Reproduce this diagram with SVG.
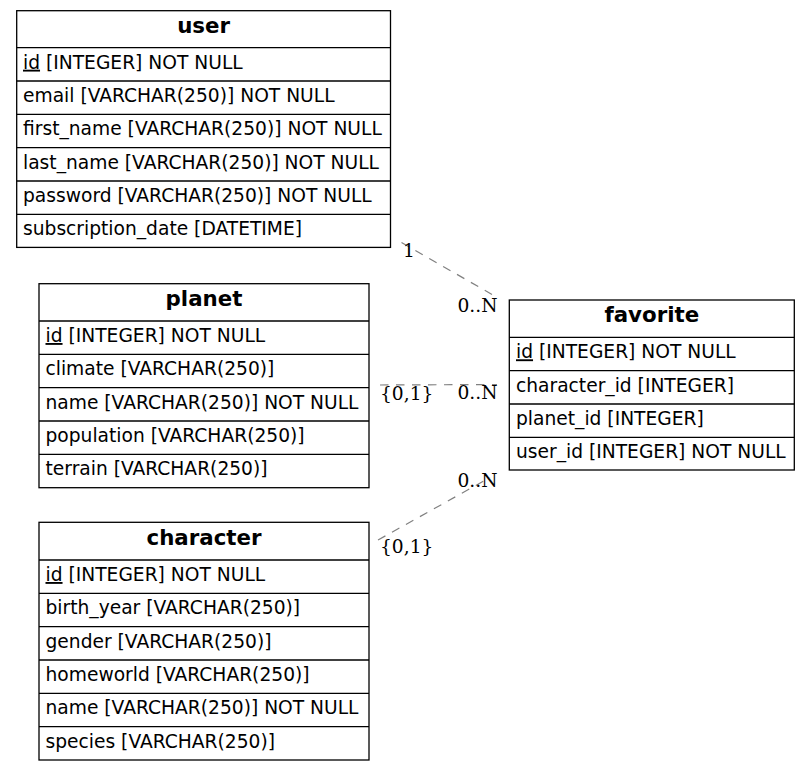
<svg xmlns="http://www.w3.org/2000/svg" width="811" height="771" viewBox="0 0 811 771">
  <style>
    .bg { fill: #ffffff; }
    .box { fill: #ffffff; stroke: #000000; stroke-width: 1.3; }
    .sep { stroke: #000000; stroke-width: 1.3; }
    .title { font-family: "DejaVu Sans", "Liberation Sans", sans-serif; font-size: 21.33px; font-weight: bold; text-anchor: middle; fill: #000; }
    .col { font-family: "DejaVu Sans", "Liberation Sans", sans-serif; font-size: 18.67px; fill: #000; }
    .pk { text-decoration: underline; }
    .edge { fill: none; stroke: #808080; stroke-width: 1.2; stroke-dasharray: 8.5 7.5; }
    .card { font-family: "DejaVu Serif", "Liberation Serif", serif; font-size: 18.67px; fill: #000; }
  </style>
  <rect class="bg" x="0" y="0" width="811" height="771"/>

  <!-- relationships -->
  <g id="connectors">
    <line class="edge" x1="401.5" y1="242.5" x2="492" y2="294.5"/>
    <line class="edge" x1="380" y1="385" x2="497" y2="384.5"/>
    <line class="edge" x1="378" y1="540" x2="490" y2="477.5"/>
    <text class="card" x="403" y="256.5">1</text>
    <text class="card" x="497.5" y="311.7" text-anchor="end">0..N</text>
    <text class="card" x="380" y="399.5">{0,1}</text>
    <text class="card" x="497.5" y="399" text-anchor="end">0..N</text>
    <text class="card" x="497.5" y="487.3" text-anchor="end">0..N</text>
    <text class="card" x="380" y="553">{0,1}</text>
  </g>

  <!-- user table -->
  <g id="user">
    <rect class="box" x="16.7" y="10.7" width="373.8" height="236.7"/>
    <line class="sep" x1="16.7" y1="47.7" x2="390.5" y2="47.7"/>
    <line class="sep" x1="16.7" y1="81" x2="390.5" y2="81"/>
    <line class="sep" x1="16.7" y1="114.3" x2="390.5" y2="114.3"/>
    <line class="sep" x1="16.7" y1="147.7" x2="390.5" y2="147.7"/>
    <line class="sep" x1="16.7" y1="181" x2="390.5" y2="181"/>
    <line class="sep" x1="16.7" y1="214.3" x2="390.5" y2="214.3"/>
    <text class="title" x="203.6" y="33">user</text>
    <text class="col" x="23" y="68.7"><tspan class="pk">id</tspan> [INTEGER] NOT NULL</text>
    <text class="col" x="23" y="102">email [VARCHAR(250)] NOT NULL</text>
    <text class="col" x="23" y="135.3">first_name [VARCHAR(250)] NOT NULL</text>
    <text class="col" x="23" y="168.7">last_name [VARCHAR(250)] NOT NULL</text>
    <text class="col" x="23" y="202">password [VARCHAR(250)] NOT NULL</text>
    <text class="col" x="23" y="235.3">subscription_date [DATETIME]</text>
  </g>

  <!-- planet table -->
  <g id="planet">
    <rect class="box" x="39" y="283.7" width="330" height="204"/>
    <line class="sep" x1="39" y1="321" x2="369" y2="321"/>
    <line class="sep" x1="39" y1="354.3" x2="369" y2="354.3"/>
    <line class="sep" x1="39" y1="387.7" x2="369" y2="387.7"/>
    <line class="sep" x1="39" y1="421" x2="369" y2="421"/>
    <line class="sep" x1="39" y1="454.3" x2="369" y2="454.3"/>
    <text class="title" x="204" y="306">planet</text>
    <text class="col" x="45.5" y="342"><tspan class="pk">id</tspan> [INTEGER] NOT NULL</text>
    <text class="col" x="45.5" y="375.3">climate [VARCHAR(250)]</text>
    <text class="col" x="45.5" y="408.7">name [VARCHAR(250)] NOT NULL</text>
    <text class="col" x="45.5" y="442">population [VARCHAR(250)]</text>
    <text class="col" x="45.5" y="475.3">terrain [VARCHAR(250)]</text>
  </g>

  <!-- character table -->
  <g id="character">
    <rect class="box" x="39" y="522.3" width="330" height="237.7"/>
    <line class="sep" x1="39" y1="560" x2="369" y2="560"/>
    <line class="sep" x1="39" y1="593.3" x2="369" y2="593.3"/>
    <line class="sep" x1="39" y1="626.7" x2="369" y2="626.7"/>
    <line class="sep" x1="39" y1="660" x2="369" y2="660"/>
    <line class="sep" x1="39" y1="693.3" x2="369" y2="693.3"/>
    <line class="sep" x1="39" y1="726.7" x2="369" y2="726.7"/>
    <text class="title" x="204" y="544.6">character</text>
    <text class="col" x="45.5" y="581"><tspan class="pk">id</tspan> [INTEGER] NOT NULL</text>
    <text class="col" x="45.5" y="614.3">birth_year [VARCHAR(250)]</text>
    <text class="col" x="45.5" y="647.7">gender [VARCHAR(250)]</text>
    <text class="col" x="45.5" y="681">homeworld [VARCHAR(250)]</text>
    <text class="col" x="45.5" y="714.3">name [VARCHAR(250)] NOT NULL</text>
    <text class="col" x="45.5" y="747.7">species [VARCHAR(250)]</text>
  </g>

  <!-- favorite table -->
  <g id="favorite">
    <rect class="box" x="509.3" y="300" width="285" height="170"/>
    <line class="sep" x1="509.3" y1="337.3" x2="794.3" y2="337.3"/>
    <line class="sep" x1="509.3" y1="370.7" x2="794.3" y2="370.7"/>
    <line class="sep" x1="509.3" y1="404" x2="794.3" y2="404"/>
    <line class="sep" x1="509.3" y1="437.3" x2="794.3" y2="437.3"/>
    <text class="title" x="651.8" y="322.3">favorite</text>
    <text class="col" x="516" y="358.3"><tspan class="pk">id</tspan> [INTEGER] NOT NULL</text>
    <text class="col" x="516" y="391.7">character_id [INTEGER]</text>
    <text class="col" x="516" y="425">planet_id [INTEGER]</text>
    <text class="col" x="516" y="458.3">user_id [INTEGER] NOT NULL</text>
  </g>
</svg>
